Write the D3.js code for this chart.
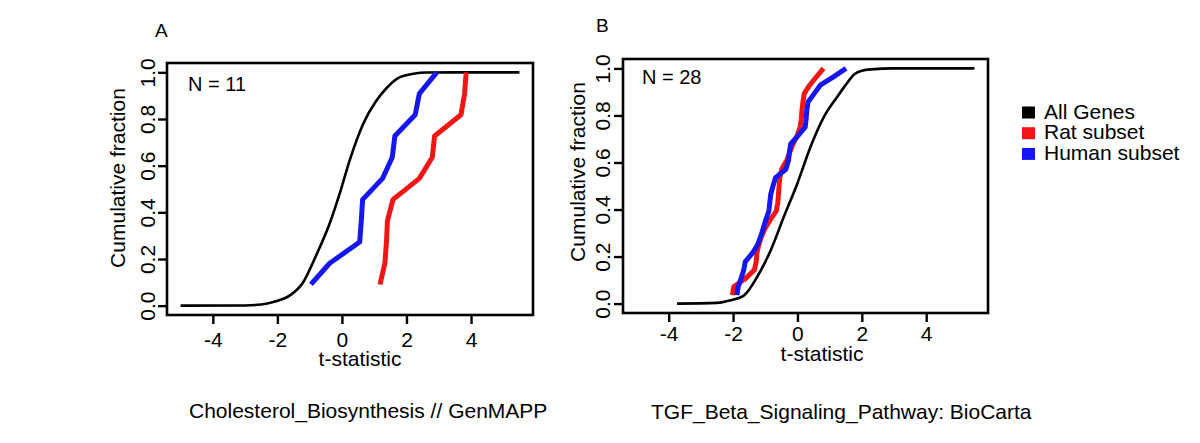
<!DOCTYPE html>
<html>
<head>
<meta charset="utf-8">
<script src="https://cdn.jsdelivr.net/npm/d3@7"></script>
<style>
  html, body { margin: 0; padding: 0; background: #fff; }
  svg { display: block; }
  text { font-family: "Liberation Sans", Arial, Helvetica, sans-serif; fill: #000; }
</style>
</head>
<body>
<svg id="chart" width="1200" height="443"></svg>
<script>
// ---------------- data ----------------
const xTicks = [-4, -2, 0, 2, 4];
const yTicks = [0, 0.2, 0.4, 0.6, 0.8, 1.0];
const yTickLabels = ["0.0", "0.2", "0.4", "0.6", "0.8", "1.0"];

// Panel A: Cholesterol_Biosynthesis // GenMAPP (N = 11)
const allGenesA_t = [-5.0, -3.0, -2.5, -2.1, -1.6, -1.22, -0.8, -0.38, -0.07, 0.24, 0.66, 1.07, 1.4, 1.7, 2.0, 2.22, 2.6, 3.5, 5.5];
const allGenesA_F = [0, 0.001, 0.005, 0.017, 0.045, 0.096, 0.215, 0.352, 0.48, 0.623, 0.78, 0.879, 0.935, 0.972, 0.988, 0.994, 0.999, 1.0, 1.0];
const ratA = [1.18, 1.33, 1.38, 1.41, 1.58, 2.40, 2.80, 2.87, 3.69, 3.80, 3.85];
const humanA = [-0.96, -0.38, 0.55, 0.60, 0.64, 1.26, 1.56, 1.64, 2.27, 2.40, 2.94];

// Panel B: TGF_Beta_Signaling_Pathway: BioCarta (N = 28)
const allGenesB_t = [-3.74, -2.5, -2.08, -1.66, -1.25, -0.83, -0.42, 0, 0.41, 0.83, 1.25, 1.5, 1.76, 2.0, 2.28, 3.0, 5.5];
const allGenesB_F = [0, 0.003, 0.014, 0.035, 0.114, 0.227, 0.37, 0.512, 0.668, 0.796, 0.882, 0.93, 0.974, 0.99, 0.996, 1.0, 1.0];
const ratB = [-2.02, -1.98, -1.61, -1.34, -1.28, -1.26, -1.20, -1.12, -1.00, -0.84, -0.66, -0.61, -0.59, -0.57,
              -0.55, -0.49, -0.34, -0.24, -0.14, -0.01, 0.08, 0.12, 0.14, 0.17, 0.21, 0.38, 0.59, 0.81];
const humanB = [-1.88, -1.84, -1.75, -1.67, -1.62, -1.40, -1.24, -1.14, -1.06, -0.98, -0.89, -0.86, -0.83, -0.76,
                -0.68, -0.36, -0.28, -0.25, -0.21, 0.02, 0.24, 0.27, 0.29, 0.33, 0.52, 0.71, 1.12, 1.51];

const legendLabels = ["All Genes", "Rat subset", "Human subset"];
const seriesColors = ["#000000", "#f01616", "#1616f0"];

// ---------------- drawing ----------------
const svg = d3.select("#chart");
svg.append("rect").attr("width", 1200).attr("height", 443).attr("fill", "#fff");

const FS = 21;

function ecdf(values) {
  const s = values.slice().sort(d3.ascending);
  return s.map((v, i) => ({ t: v, F: (i + 1) / s.length }));
}

function panel(cfg) {
  const x = d3.scaleLinear().domain([-5.42, 5.92]).range([cfg.left, cfg.right]);
  const y = d3.scaleLinear().domain([-0.04, 1.04]).range([cfg.bottom, cfg.top]);
  const g = svg.append("g");

  const line = d3.line().x(d => x(d.t)).y(d => y(d.F));

  // All genes (smooth)
  const black = cfg.allT.map((t, i) => ({ t: t, F: cfg.allF[i] }));
  g.append("path").datum(black)
    .attr("d", line.curve(d3.curveMonotoneX))
    .attr("fill", "none").attr("stroke", seriesColors[0]).attr("stroke-width", 2.6);

  const stepLine = d3.line().x(d => x(d.t)).y(d => y(d.F)).curve(d3.curveLinear);
  cfg.order.forEach(key => {
    const vals = key === "rat" ? cfg.rat : cfg.human;
    const col = key === "rat" ? seriesColors[1] : seriesColors[2];
    g.append("path").datum(ecdf(vals))
      .attr("d", stepLine)
      .attr("fill", "none").attr("stroke", col).attr("stroke-width", 5)
      .attr("stroke-linejoin", "round");
  });

  // box
  g.append("rect")
    .attr("x", cfg.left).attr("y", cfg.top)
    .attr("width", cfg.right - cfg.left).attr("height", cfg.bottom - cfg.top)
    .attr("fill", "none").attr("stroke", "#000").attr("stroke-width", 2.6);

  // x axis
  const xAxis = d3.axisBottom(x).tickValues(xTicks).tickSize(9).tickPadding(4)
    .tickFormat(d => d < 0 ? "-" + Math.abs(d) : String(d));
  const gx = g.append("g").attr("transform", `translate(0,${cfg.bottom})`).call(xAxis);
  gx.select(".domain").remove();
  gx.selectAll(".tick line").attr("stroke", "#000").attr("stroke-width", 2.4);
  gx.selectAll(".tick text").attr("font-size", FS).attr("dy", null)
    .attr("y", cfg.xTickBase - cfg.bottom).attr("font-family", "Liberation Sans, Arial, sans-serif");

  // y axis
  const yAxis = d3.axisLeft(y).tickValues(yTicks).tickSize(9)
    .tickFormat((d, i) => yTickLabels[i]);
  const gy = g.append("g").attr("transform", `translate(${cfg.left},0)`).call(yAxis);
  gy.select(".domain").remove();
  gy.selectAll(".tick line").attr("stroke", "#000").attr("stroke-width", 2.4);
  gy.selectAll(".tick text")
    .attr("x", null).attr("dy", null)
    .attr("text-anchor", "middle")
    .attr("font-size", FS)
    .attr("font-family", "Liberation Sans, Arial, sans-serif")
    .attr("transform", `translate(${cfg.yTickBase - cfg.left},0) rotate(-90)`);

  // axis titles
  g.append("text").attr("x", cfg.xLabelX).attr("y", cfg.xLabelY)
    .attr("text-anchor", "middle").attr("font-size", FS).text("t-statistic");
  g.append("text")
    .attr("transform", `translate(${cfg.yLabelX},${cfg.yLabelY}) rotate(-90)`)
    .attr("text-anchor", "middle").attr("font-size", FS).text("Cumulative fraction");

  // N label
  g.append("text").attr("x", cfg.nX).attr("y", cfg.nY).attr("font-size", 20).text(cfg.nText);
  // panel letter
  g.append("text").attr("x", cfg.letterX).attr("y", cfg.letterY).attr("font-size", 19).text(cfg.letter);
  // bottom title
  g.append("text").attr("x", cfg.titleX).attr("y", cfg.titleY).attr("font-size", FS).text(cfg.title);
}

panel({
  left: 167, right: 533, top: 63, bottom: 315,
  allT: allGenesA_t, allF: allGenesA_F, rat: ratA, human: humanA, order: ["rat", "human"],
  xTickBase: 346.5, yTickBase: 155,
  xLabelX: 360, xLabelY: 366, yLabelX: 125, yLabelY: 178,
  nX: 188, nY: 90.5, nText: "N = 11",
  letterX: 155, letterY: 37, letter: "A",
  titleX: 189, titleY: 418, title: "Cholesterol_Biosynthesis // GenMAPP"
});

panel({
  left: 623, right: 988, top: 59, bottom: 313,
  allT: allGenesB_t, allF: allGenesB_F, rat: ratB, human: humanB, order: ["rat", "human"],
  xTickBase: 341, yTickBase: 610,
  xLabelX: 822, xLabelY: 361, yLabelX: 585, yLabelY: 172,
  nX: 642, nY: 84, nText: "N = 28",
  letterX: 596, letterY: 32, letter: "B",
  titleX: 651, titleY: 419, title: "TGF_Beta_Signaling_Pathway: BioCarta"
});

// legend
const legend = svg.append("g");
legendLabels.forEach((lab, i) => {
  const base = 118.5 + i * 20.7;
  legend.append("rect").attr("x", 1022).attr("y", base - 12).attr("width", 13).attr("height", 12)
    .attr("fill", seriesColors[i]);
  legend.append("text").attr("x", 1044).attr("y", base).attr("font-size", FS).text(lab);
});
</script>
</body>
</html>
